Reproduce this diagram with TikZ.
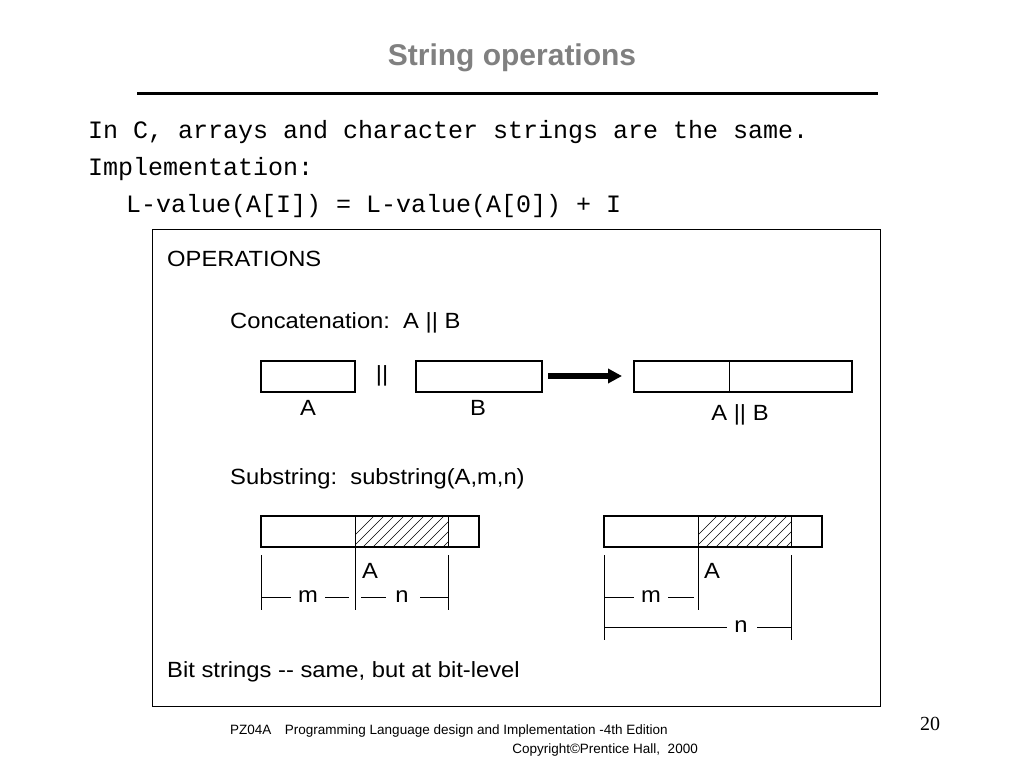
\documentclass[tikz,border=0pt]{standalone}
\usepackage{fontspec}
\setmainfont{Liberation Sans}
\newfontfamily\monof{Liberation Mono}
\newfontfamily\serf{Liberation Serif}
\usetikzlibrary{arrows.meta}
\begin{document}
\begin{tikzpicture}[x=1pt,y=-1pt,
  sbox/.style={draw,line width=2.4pt},
  lbl/.style={font=\fontsize{22}{24}\selectfont,inner sep=0pt,xscale=1.08},
  code/.style={font=\monof\fontsize{25}{28}\selectfont,anchor=west,inner sep=0pt},
  dim/.style={line width=0.9pt}]
\useasboundingbox (0,0) rectangle (1024,768);
\node[font=\bfseries\fontsize{30}{33}\selectfont,text=black!50] (title) at (512,58) {String operations};
\draw[line width=3pt] (137,93) -- (878,93);
\node[code] (l1) at (88,132) {In C, arrays and character strings are the same.};
\node[code] (l2) at (88,169) {Implementation:};
\node[code] (l3) at (126,206) {L-value(A[I]) = L-value(A[0]) + I};
\draw[line width=1pt] (152,229) rectangle (880,706);
\node[lbl,anchor=west] (ops) at (167,259) {OPERATIONS};
\node[lbl,anchor=west] (cat) at (230,323) {Concatenation:\ \ A || B};
% concatenation boxes
\draw[sbox] (261,361) rectangle (355,392);
\node[lbl] (bar) at (382,376) {||};
\draw[sbox] (416,361) rectangle (542,392);
\draw[sbox] (634,361) rectangle (852,392);
\draw[line width=1pt] (729,361) -- (729,392);
\coordinate (as) at (548,376); \coordinate (ae) at (622,376);
\draw[line width=6pt,-{Triangle[length=14pt,width=14pt]}] (as) -- (ae);
\node[lbl] (la) at (308,408) {A};
\node[lbl] (lb) at (478,408) {B};
\node[lbl] (lab) at (740,415) {A || B};
\node[lbl,anchor=west] (sub) at (230,479) {Substring:\ \ substring(A,m,n)};
% left substring
\begin{scope}
\clip (355,516) rectangle (448,547);
\foreach \i in {0,...,14} \draw[line width=0.6pt] (340+\i*10,550) -- (380+\i*10,510);
\end{scope}
\draw[line width=1pt] (448,516) -- (448,547);
\draw[sbox] (261,516) rectangle (479,547);
\draw[line width=1pt] (355,516) -- (355,547);
\draw[dim] (261,555) -- (261,610) (355,547) -- (355,610) (448,555) -- (448,610);
\draw[dim] (261,597) -- (291,597) (325,597) -- (349,597) (361,597) -- (386,597) (420,597) -- (448,597);
\node[lbl] (m1) at (308,597) {m};
\node[lbl] (n1) at (402,597) {n};
\node[lbl] (a1) at (370,571) {A};
% right substring
\begin{scope}
\clip (698,516) rectangle (791,547);
\foreach \i in {0,...,14} \draw[line width=0.6pt] (683+\i*10,550) -- (723+\i*10,510);
\end{scope}
\draw[line width=1pt] (791,516) -- (791,547);
\draw[sbox] (604,516) rectangle (822,547);
\draw[line width=1pt] (698,516) -- (698,547);
\draw[dim] (604,555) -- (604,640) (698,547) -- (698,610) (791,555) -- (791,640);
\draw[dim] (604,597) -- (634,597) (668,597) -- (694,597);
\draw[dim] (604,627) -- (727,627) (757,627) -- (791,627);
\node[lbl] (m2) at (651,597) {m};
\node[lbl] (n2) at (741,627) {n};
\node[lbl] (a2) at (712,571) {A};
\node[lbl,anchor=west] (bits) at (167,672) {Bit strings {-}{-} same, but at bit{-}level};
% footer
\node[font=\fontsize{13.5}{16}\selectfont,anchor=west,inner sep=0pt] (f1) at (230,731) {PZ04A\quad Programming Language design and Implementation -4th Edition};
\node[font=\fontsize{13.5}{16}\selectfont,anchor=east,inner sep=0pt] (f2) at (698,750) {Copyright©Prentice Hall,\ \ 2000};
\node[font=\serf\fontsize{20}{22}\selectfont] (pg) at (930,724) {20};
\end{tikzpicture}
\end{document}
